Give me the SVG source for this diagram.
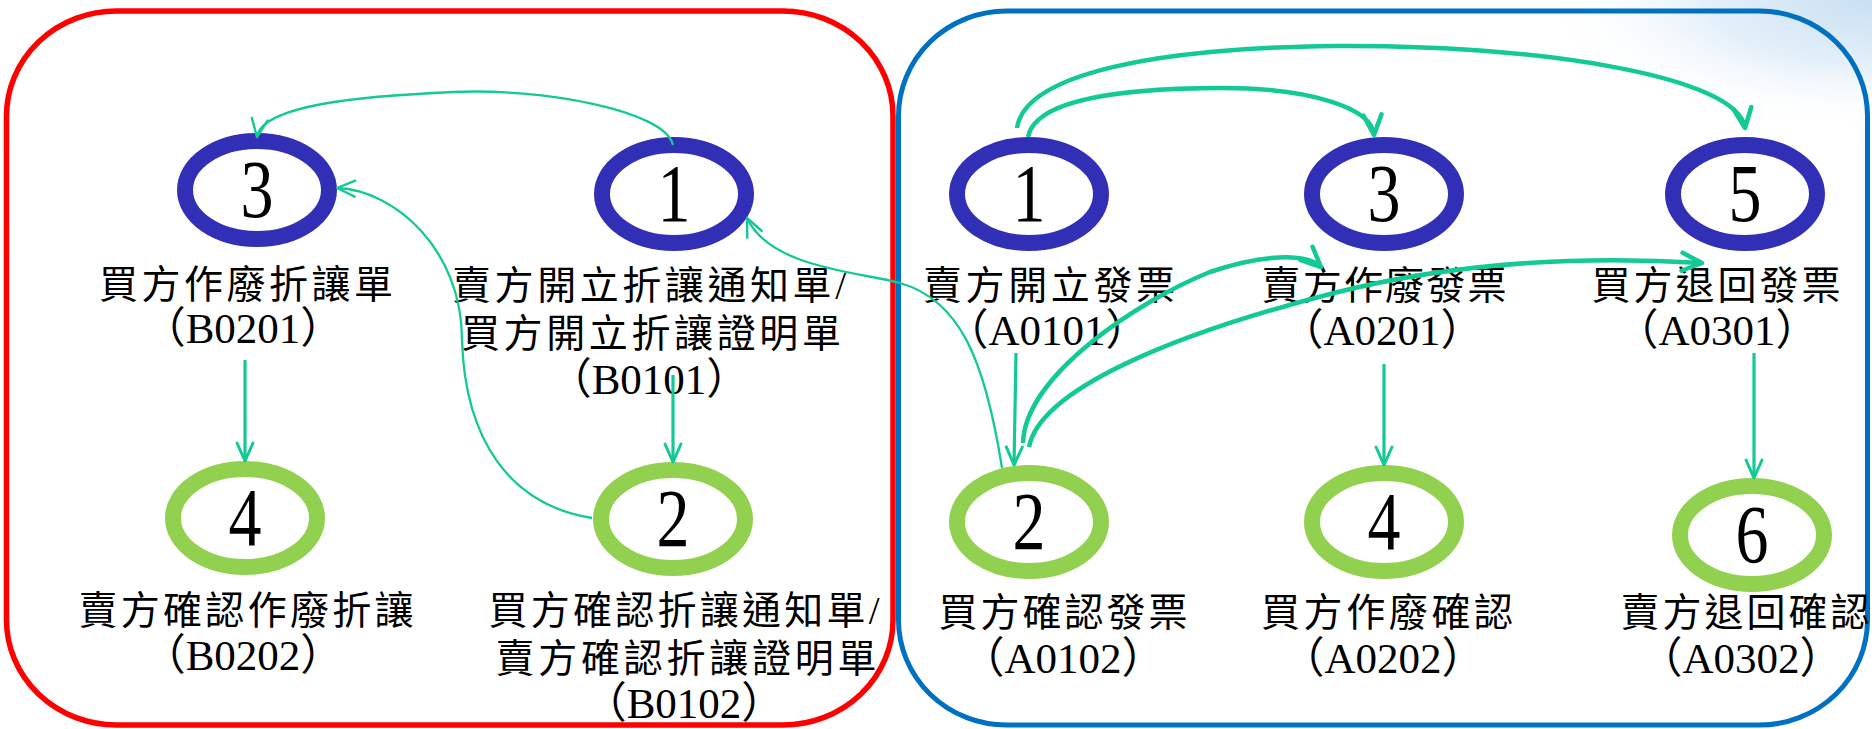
<svg xmlns="http://www.w3.org/2000/svg" width="1872" height="729" viewBox="0 0 1872 729">
<defs>
<radialGradient id="glow" cx="1872" cy="0" r="1" gradientUnits="userSpaceOnUse" gradientTransform="translate(1872,0) scale(330,130) translate(-1872,0)">
<stop offset="0" stop-color="#c9e0f2"/>
<stop offset="0.5" stop-color="#e4f0f9"/>
<stop offset="1" stop-color="#ffffff" stop-opacity="0"/>
</radialGradient>
<marker id="arrThin" viewBox="0 0 24 24" refX="21" refY="12" markerWidth="24" markerHeight="24" markerUnits="userSpaceOnUse" orient="auto">
<path d="M3,4 L21,12 L3,20" fill="none" stroke="#13c996" stroke-width="2.4" stroke-linecap="round" stroke-linejoin="round"/>
</marker>
<marker id="arrMid" viewBox="0 0 24 24" refX="21" refY="12" markerWidth="24" markerHeight="24" markerUnits="userSpaceOnUse" orient="auto">
<path d="M3,4 L21,12 L3,20" fill="none" stroke="#13c996" stroke-width="3" stroke-linecap="round" stroke-linejoin="round"/>
</marker>
<marker id="arrThick" viewBox="0 0 26 26" refX="23" refY="13" markerWidth="26" markerHeight="26" markerUnits="userSpaceOnUse" orient="auto">
<path d="M3,4 L23,13 L3,22" fill="none" stroke="#13c996" stroke-width="4.5" stroke-linecap="round" stroke-linejoin="round"/>
</marker>
</defs>
<style>
.ring-b { fill: #ffffff; stroke: #302fb5; stroke-width: 16; }
.ring-g { fill: #ffffff; stroke: #92d050; stroke-width: 16; }
.num { font-family: "Liberation Serif", serif; font-size: 82px; text-anchor: middle; fill: #000000; }
.lbl { font-family: "Liberation Serif", "Noto Sans CJK TC", serif; font-size: 39px; text-anchor: middle; fill: #000000; }
.code { font-family: "Liberation Serif", "Noto Sans CJK TC", serif; font-size: 43px; text-anchor: middle; fill: #000000; }
.c { fill: none; stroke: #13c996; }
.thin { stroke-width: 2.3; }
.mid { stroke-width: 3.2; }
.thick { stroke-width: 4.5; }
.frame { fill: none; }
</style>
<rect x="0" y="0" width="1872" height="729" fill="#ffffff"/>
<rect x="1400" y="0" width="472" height="180" fill="url(#glow)"/>
<g id="frames">
<rect class="frame" x="6.5" y="11" width="886.5" height="714" rx="110" ry="105" stroke="#ff0000" stroke-width="5.5"/>
<rect class="frame" x="898.5" y="11" width="969" height="714" rx="108" ry="105" stroke="#0070c0" stroke-width="5"/>
</g>
<g id="nB3"><ellipse class="ring-b" cx="257" cy="190" rx="72" ry="49"/><text class="num" x="257" y="217" textLength="33" lengthAdjust="spacingAndGlyphs">3</text></g>
<g id="nB1"><ellipse class="ring-b" cx="674" cy="194" rx="72" ry="49"/><text class="num" x="674" y="221" textLength="33" lengthAdjust="spacingAndGlyphs">1</text></g>
<g id="nB4"><ellipse class="ring-g" cx="245" cy="518" rx="72" ry="49"/><text class="num" x="245" y="545" textLength="33" lengthAdjust="spacingAndGlyphs">4</text></g>
<g id="nB2"><ellipse class="ring-g" cx="673" cy="519" rx="72" ry="49"/><text class="num" x="673" y="546" textLength="33" lengthAdjust="spacingAndGlyphs">2</text></g>
<g id="nA1"><ellipse class="ring-b" cx="1029" cy="194" rx="72" ry="49"/><text class="num" x="1029" y="221" textLength="33" lengthAdjust="spacingAndGlyphs">1</text></g>
<g id="nA3"><ellipse class="ring-b" cx="1384" cy="194" rx="72" ry="49"/><text class="num" x="1384" y="221" textLength="33" lengthAdjust="spacingAndGlyphs">3</text></g>
<g id="nA5"><ellipse class="ring-b" cx="1745" cy="194" rx="72" ry="49"/><text class="num" x="1745" y="221" textLength="33" lengthAdjust="spacingAndGlyphs">5</text></g>
<g id="nA2"><ellipse class="ring-g" cx="1029" cy="522" rx="72" ry="49"/><text class="num" x="1029" y="549" textLength="33" lengthAdjust="spacingAndGlyphs">2</text></g>
<g id="nA4"><ellipse class="ring-g" cx="1384" cy="522" rx="72" ry="49"/><text class="num" x="1384" y="549" textLength="33" lengthAdjust="spacingAndGlyphs">4</text></g>
<g id="nA6"><ellipse class="ring-g" cx="1752" cy="535" rx="72" ry="49"/><text class="num" x="1752" y="562" textLength="33" lengthAdjust="spacingAndGlyphs">6</text></g>
<g id="labels">
<text class="lbl" x="246" y="298" textLength="294">買方作廢折讓單</text>
<text class="code" x="243" y="343">（B0201）</text>
<text class="lbl" x="649" y="299" textLength="394">賣方開立折讓通知單/</text>
<text class="lbl" x="651" y="347" textLength="380">買方開立折讓證明單</text>
<text class="code" x="649" y="394">（B0101）</text>
<text class="lbl" x="246" y="624" textLength="335">賣方確認作廢折讓</text>
<text class="code" x="243" y="670">（B0202）</text>
<text class="lbl" x="684" y="624" textLength="391">買方確認折讓通知單/</text>
<text class="lbl" x="686" y="672" textLength="381">賣方確認折讓證明單</text>
<text class="code" x="684" y="718">（B0102）</text>
<text class="lbl" x="1049" y="299" textLength="252">賣方開立發票</text>
<text class="code" x="1047" y="345">（A0101）</text>
<text class="lbl" x="1384" y="299" textLength="245">賣方作廢發票</text>
<text class="code" x="1382" y="345">（A0201）</text>
<text class="lbl" x="1716" y="299" textLength="249">買方退回發票</text>
<text class="code" x="1717" y="345">（A0301）</text>
<text class="lbl" x="1063" y="626" textLength="249">買方確認發票</text>
<text class="code" x="1063" y="673">（A0102）</text>
<text class="lbl" x="1387" y="626" textLength="252">買方作廢確認</text>
<text class="code" x="1383" y="673">（A0202）</text>
<text class="lbl" x="1745" y="626" textLength="249">賣方退回確認</text>
<text class="code" x="1741" y="673">（A0302）</text>
</g>
<g id="connectors">
<path class="c thin" d="M673,145 C665,110 540,88 454,92 C360,96 262,105 257,137" marker-end="url(#arrThin)"/>
<path class="c thin" d="M592,518 C510,505 465,440 462,340 C462,250 395,190 337,188" marker-end="url(#arrThin)"/>
<path class="c mid" d="M245,360 L245,461" marker-end="url(#arrMid)"/>
<path class="c mid" d="M673,375 L673,462" marker-end="url(#arrMid)"/>
<path class="c thin" d="M1002,468 C985,360 960,300 900,283 C860,272 770,268 747,218" marker-end="url(#arrThin)"/>
<path class="c thick" d="M1017,128 C1025,75 1150,48 1334,46 C1530,44 1738,75 1745,128" marker-end="url(#arrThick)"/>
<path class="c thick" d="M1028,137 C1035,100 1120,88 1222,88 C1310,88 1372,108 1374,135" marker-end="url(#arrThick)"/>
<path class="c mid" d="M1016,353 L1014,465" marker-end="url(#arrMid)"/>
<path class="c thick" d="M1023,443 C1025,375 1140,300 1210,272 C1260,255 1305,252 1321,267" marker-end="url(#arrThick)"/>
<path class="c thick" d="M1029,447 C1040,390 1170,335 1334,293 C1480,256 1620,258 1702,263" marker-end="url(#arrThick)"/>
<path class="c mid" d="M1384,364 L1384,465" marker-end="url(#arrMid)"/>
<path class="c mid" d="M1754,353 L1754,478" marker-end="url(#arrMid)"/>
</g>
</svg>
